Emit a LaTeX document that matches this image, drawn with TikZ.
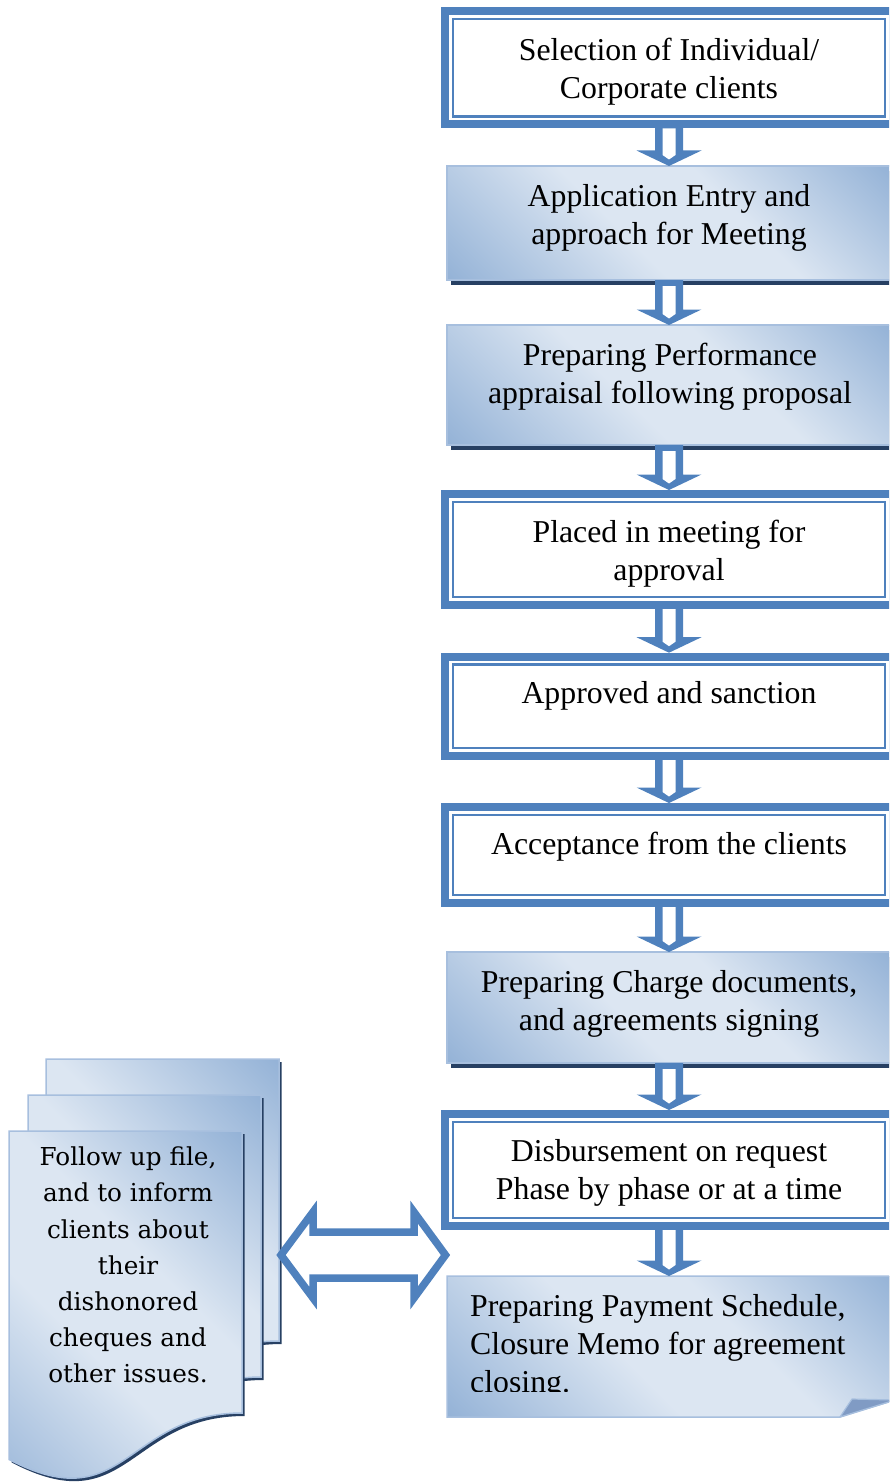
\documentclass[tikz,border=0pt]{standalone}
\usepackage{fontspec}
\setmainfont{Liberation Serif}
\newfontfamily\docfont{DejaVu Serif}
\usetikzlibrary{calc,shadows}

\definecolor{accent}{RGB}{79,129,189}
\definecolor{gradlight}{RGB}{220,230,242}
\definecolor{graddark}{RGB}{149,179,215}
\definecolor{edgeblue}{RGB}{167,191,222}
\definecolor{shadownavy}{RGB}{39,64,99}
\definecolor{flapblue}{RGB}{128,155,196}

% light band along one diagonal, darker towards the two other corners
\pgfdeclarehorizontalshading{sheet}{100bp}{color(0bp)=(graddark); color(15bp)=(graddark); color(43bp)=(gradlight); color(60bp)=(gradlight); color(85bp)=(graddark); color(100bp)=(graddark)}

\tikzset{
  framebox/.style={rectangle, draw=accent, line width=8pt, fill=white,
    inner sep=0pt, outer sep=4pt, minimum width=448pt,
    path picture={\draw[accent, line width=2.5pt]
      ($(path picture bounding box.north west)+(8,8)$) rectangle
      ($(path picture bounding box.south east)+(-8,-8)$);}},
  shadebox/.style={rectangle, draw=edgeblue, line width=1.5pt,
    shading=sheet, shading angle=45, inner sep=0pt, outer sep=0pt,
    minimum width=444pt,
    drop shadow={shadow xshift=4pt, shadow yshift=-5pt, opacity=1, fill=shadownavy}},
  sheetedge/.style={draw=edgeblue, line width=1.5pt, shading=sheet, shading angle=45},
  flowtext/.style={font=\fontsize{31.8pt}{38pt}\selectfont, align=center,
    inner sep=0pt, anchor=north},
  doctext/.style={font=\docfont\fontsize{24.7pt}{36.1pt}\selectfont, align=center,
    inner sep=0pt, anchor=north},
  linkarrow/.style={fill=white, draw=accent, line width=7.5pt, line join=miter},
}

% hollow block arrow from the bottom of #1 to the top of #2
% #3: where the blue shaft starts, #4: where its white core starts
\newcommand{\blockdown}[4]{%
  \fill[accent] ($(#1.south)+(-14,#3)$) -- ($(#2.north)+(-14,-15.5)$)
    -- ($(#2.north)+(-32.5,-15.5)$) -- (#2.north) -- ($(#2.north)+(32.5,-15.5)$)
    -- ($(#2.north)+(14,-15.5)$) -- ($(#1.south)+(14,#3)$) -- cycle;
  \fill[white] ($(#1.south)+(-6.5,#4)$) -- ($(#2.north)+(-6.5,-11)$)
    -- ($(#2.north)+(0,-6.5)$) -- ($(#2.north)+(6.5,-11)$)
    -- ($(#1.south)+(6.5,#4)$) -- cycle;}

% one sheet of the document stack, top left corner at (#1,#2)
\newcommand{\docsheet}[2]{%
  \begin{scope}[shift={(#1,#2)}]
    \fill[shadownavy] (2.5,3) -- (235.5,3) -- (235.5,285)
      .. controls (119,285) and (119,392.4) .. (2.5,331.4) -- cycle;
    \path[sheetedge] (0,0) -- (233,0) -- (233,282)
      .. controls (116.5,282) and (116.5,389.4) .. (0,328.4) -- cycle;
  \end{scope}}

\begin{document}
\begin{tikzpicture}[x=1pt, y=-1pt]
\useasboundingbox (0,0) rectangle (889,1482);
\clip (0,0) rectangle (889,1482);

% document stack on the left
\docsheet{46}{1059}
\docsheet{28}{1095}
\docsheet{9}{1131}
\node[doctext] (follow) at (128,1140.4) {\strut Follow up file,\\and to inform\\clients about\\their\\dishonored\\cheques and\\other issues.};

% process boxes
\node[framebox, minimum height=113.5pt] (b1) at (669,67.75) {};
\node[shadebox, minimum height=114pt] (b2) at (669,223) {};
\node[shadebox, minimum height=120pt] (b3) at (669,385) {};
\node[framebox, minimum height=111pt] (b4) at (669,549.5) {};
\node[framebox, minimum height=99.3pt] (b5) at (669,706.35) {};
\node[framebox, minimum height=96pt] (b6) at (669,855) {};
\node[shadebox, minimum height=111pt] (b7) at (669,1007.5) {};
\node[framebox, minimum height=112pt] (b8) at (669,1170) {};
\node[rectangle, inner sep=0pt, outer sep=0pt, minimum width=444pt, minimum height=141pt] (b9) at (669,1346.5) {};

% last box: page with a folded lower right corner
\begin{scope}[shift={(4,5)}]
  \fill[shadownavy] (b9.north west) -- ($(b9.north east)+(4,0)$) -- ($(b9.south east)+(4,-17)$)
    -- ($(b9.south west)+(393,0)$) -- (b9.south west) -- cycle;
\end{scope}
\path[sheetedge] (b9.north west) -- ($(b9.north east)+(4,0)$) -- ($(b9.south east)+(4,-17)$)
  -- ($(b9.south west)+(393,0)$) -- (b9.south west) -- cycle;
\filldraw[fill=flapblue, draw=edgeblue, line width=1.2pt, line join=round]
  ($(b9.south west)+(393,0)$) -- ($(b9.south west)+(405,-18)$) -- ($(b9.south east)+(4,-17)$) -- cycle;

% flow arrows
\blockdown{b1}{b2}{-4}{0}
\blockdown{b2}{b3}{0}{6}
\blockdown{b3}{b4}{0}{6}
\blockdown{b4}{b5}{-4}{0}
\blockdown{b5}{b6}{-4}{0}
\blockdown{b6}{b7}{-4}{0}
\blockdown{b7}{b8}{0}{6}
\blockdown{b8}{b9}{-4}{0}

% two-way link between the follow-up file and the flow
\coordinate (linkL) at (281,1255);
\coordinate (linkR) at (445.5,1255);
\path[linkarrow] (linkL) -- ($(linkL)+(32,-43)$) -- ($(linkL)+(32,-23)$)
  -- ($(linkR)+(-31.5,-23)$) -- ($(linkR)+(-31.5,-43)$) -- (linkR)
  -- ($(linkR)+(-31.5,43)$) -- ($(linkR)+(-31.5,23)$)
  -- ($(linkL)+(32,23)$) -- ($(linkL)+(32,43)$) -- cycle;

% box texts
\node[flowtext] (t1) at (669,33.4) {\strut Selection of Individual/\\Corporate clients};
\node[flowtext] (t2) at (669,180.1) {\strut Application Entry and\\approach for Meeting};
\node[flowtext] (t3) at (670,338.4) {\strut Preparing Performance\\appraisal following proposal};
\node[flowtext] (t4) at (669,515.4) {\strut Placed in meeting for\\approval};
\node[flowtext] (t5) at (669,676.7) {\strut Approved and sanction};
\node[flowtext] (t6) at (669,827.4) {\strut Acceptance from the clients};
\node[flowtext] (t7) at (669,965.9) {\strut Preparing Charge documents,\\and agreements signing};
\node[flowtext] (t8) at (669,1135.1) {\strut Disbursement on request\\Phase by phase or at a time};
\begin{scope}
  \clip (b9.north west) rectangle ($(b9.south east)+(0,-26)$);
  \node[flowtext, anchor=north west, align=left] (t9) at (470,1290.1)
    {\strut Preparing Payment Schedule,\\Closure Memo for agreement\\closing.};
\end{scope}
\end{tikzpicture}
\end{document}
